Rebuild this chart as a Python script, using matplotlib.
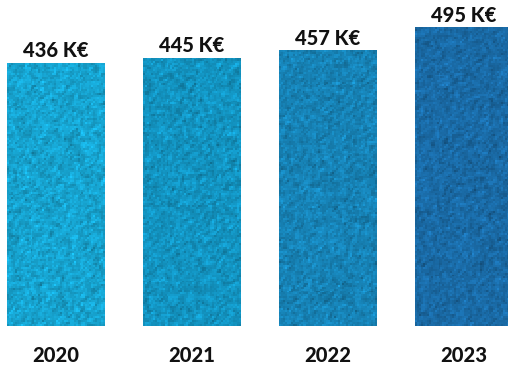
import numpy as np
import matplotlib.pyplot as plt
import matplotlib.colors as mcolors

years = ['2020', '2021', '2022', '2023']
values = [436, 445, 457, 495]
bar_colors = ['#17a3cf', '#1393c0', '#1782b5', '#1a6aa5']

FONT = ['Lato', 'DejaVu Sans']


def grain(shape, rng):
    # blotchy speckle used as a fabric-like fill for the bars
    n = rng.normal(0, 1, shape)
    n = (n + np.roll(n, 1, 0) + np.roll(n, 1, 1)) / 3.0
    return np.clip(n, -2, 2)


fig = plt.figure(figsize=(5.08, 3.65), dpi=100)
ax = fig.add_axes([0, 0, 1, 1])

x = np.arange(len(years))
bars = ax.bar(x, values, width=0.72, color=bar_colors, zorder=1)

rng = np.random.default_rng(3)
for bar, col in zip(bars, bar_colors):
    base = np.array(mcolors.to_rgb(col))
    h_px = int(bar.get_height() * 0.61) // 2 + 1
    w_px = 50
    n = grain((h_px, w_px), rng)
    img = base[None, None, :] * (1 + 0.13 * n[..., None])
    img = np.clip(img, 0, 1)
    im = ax.imshow(img, extent=[bar.get_x(), bar.get_x() + bar.get_width(), 0, bar.get_height()],
                   aspect='auto', interpolation='nearest', zorder=2)
    im.set_clip_path(bar)

for xi, v in zip(x, values):
    ax.annotate('{} K€'.format(v), (xi, v), xytext=(0, 2), textcoords='offset points',
                ha='center', va='bottom', fontsize=14.5, fontweight='black', family=FONT,
                color='#111111')

for xi, y in zip(x, years):
    ax.text(xi, 0.027, y, transform=ax.get_xaxis_transform(), ha='center', va='center',
            fontsize=14.5, fontweight='black', family=FONT, color='#111111')

ax.set_xlim(-0.412, 3.328)
ax.set_ylim(-64.7, 540.6)
ax.axis('off')

fig.savefig('out.png', dpi=100)
